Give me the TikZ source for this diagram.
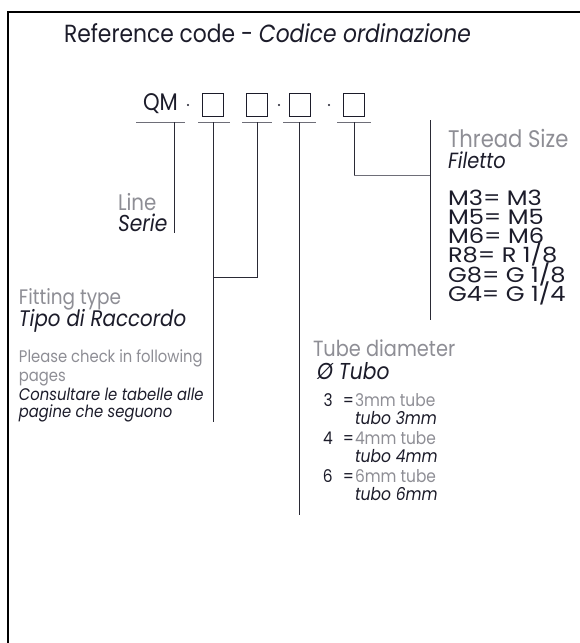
\documentclass[tikz,border=0pt]{standalone}
\usepackage{fontspec}
\setmainfont{Poppins}[FakeStretch=0.88]
\newfontfamily\widefont{Poppins}[FakeStretch=1.15]
\definecolor{txtgray}{HTML}{8E8E95}
\definecolor{ink}{HTML}{1C1C2A}
\definecolor{linec}{HTML}{2A2A35}
\definecolor{ulinec}{HTML}{6E6E78}
\newcommand{\fs}[1]{\fontsize{#1}{#1}\selectfont}
\begin{document}
\begin{tikzpicture}[x=1pt,y=-1pt,
  lbl/.style={anchor=base west,inner sep=0pt,outer sep=0pt,text=ink},
  en/.style={lbl,text=txtgray},
  cbox/.style={draw=ink,line width=0.9pt,minimum width=21pt,minimum height=23pt,inner sep=0pt},
  sep/.style={circle,fill=ink,inner sep=0pt,minimum size=2.2pt},
  uline/.style={draw=ulinec,line width=1pt},
  conn/.style={draw=linec,line width=0.9pt},
  gconn/.style={draw=ulinec,line width=1pt},
  frame/.style={draw=black,line width=2pt}]
\useasboundingbox (0,0) rectangle (580,643);
\draw[frame] (7.5,643) -- (7.5,11.5) -- (581,11.5);

% title
\node[lbl,font=\fs{24.8}] (title) at (64,42) {Reference code - \textit{Codice ordinazione}};

% code row
\node[lbl,font=\fs{24}] (qm) at (143,110) {QM};
\node[sep] (d1) at (188,105) {};
\node[cbox] (b1) at (212.5,104.5) {};
\node[cbox] (b2) at (257,104.5) {};
\node[sep] (d2) at (279,105) {};
\node[cbox] (b3) at (300,104.5) {};
\node[sep] (d3) at (329,105) {};
\node[cbox] (b4) at (354,104.5) {};

% underlines
\coordinate (u1a) at (136,122); \coordinate (u1b) at (185,122);
\coordinate (u2a) at (198,122); \coordinate (u2b) at (230,122);
\coordinate (u3a) at (242,122); \coordinate (u3b) at (272,122);
\coordinate (u4a) at (283,122); \coordinate (u4b) at (316,122);
\coordinate (u5a) at (337,122); \coordinate (u5b) at (371,122);
\draw[uline] (u1a) -- (u1b);
\draw[uline] (u2a) -- (u2b);
\draw[uline] (u3a) -- (u3b);
\draw[uline] (u4a) -- (u4b);
\draw[uline] (u5a) -- (u5b);

% ticks
\coordinate (t1) at (174,122);
\coordinate (t2) at (213,122);
\coordinate (t3) at (257,122);
\coordinate (t4) at (299,122);
\coordinate (t5) at (354,122);

% Line
\coordinate (e1) at (174,233);
\draw[conn] (t1) -- (e1);
\node[en,font=\fs{22.5}] (line) at (118,210) {Line};
\node[lbl,font=\fs{23}\itshape] (serie) at (118,231) {Serie};

% Fitting type
\coordinate (e2) at (213,422);
\coordinate (j2) at (213,277);
\coordinate (j3) at (257,277);
\draw[conn] (t2) -- (e2);
\draw[conn] (t3) -- (j3) -- (j2);
\node[en,font=\fs{21}] (fit) at (19,304) {Fitting type};
\node[lbl,font=\fs{22.5}\itshape] (tipo) at (19,326) {Tipo di Raccordo};
\node[en,font=\fs{16.8}] (pl1) at (19,362) {Please check in following};
\node[en,font=\fs{16.8}] (pl2) at (19,381) {pages};
\node[lbl,font=\fs{16.8}\itshape] (co1) at (19,400) {Consultare le tabelle alle};
\node[lbl,font=\fs{16.8}\itshape] (co2) at (19,417) {pagine che seguono};

% Tube diameter
\coordinate (e4) at (299,515);
\draw[conn] (t4) -- (e4);
\node[en,font=\fs{22}] (tube) at (313,356) {Tube diameter};
\node[lbl,font=\fs{23}\itshape] (tubo) at (317,379) {Ø Tubo};
\node[lbl,anchor=base east,font=\fs{17.5}] (n3) at (354,406) {3\hspace{6pt} =};
\node[en,font=\fs{17.5}] (g3) at (355,406) {3mm tube};
\node[lbl,font=\fs{17.7}\itshape] (i3) at (355,424) {tubo 3mm};
\node[lbl,anchor=base east,font=\fs{17.5}] (n4) at (354,444) {4\hspace{6pt} =};
\node[en,font=\fs{17.5}] (g4) at (355,444) {4mm tube};
\node[lbl,font=\fs{17.7}\itshape] (i4) at (355,462) {tubo 4mm};
\node[lbl,anchor=base east,font=\fs{17.5}] (n6) at (354,482) {6\hspace{6pt} =};
\node[en,font=\fs{17.5}] (g6) at (355,482) {6mm tube};
\node[lbl,font=\fs{17.7}\itshape] (i6) at (355,500) {tubo 6mm};

% Thread size
\coordinate (j5) at (354,175);
\coordinate (k5) at (430,175);
\coordinate (v5a) at (430,120);
\coordinate (v5b) at (430,320);
\draw[conn] (t5) -- (j5);
\draw[gconn] (j5) -- (k5);
\draw[conn] (v5a) -- (v5b);
\node[en,font=\fs{24}] (thr) at (448,147) {Thread Size};
\node[lbl,font=\fs{22}\itshape] (fil) at (448,168) {Filetto};
\node[lbl,font=\widefont\fs{21}] (m3) at (448,205) {M3= M3};
\node[lbl,font=\widefont\fs{21}] (m5) at (448,224.3) {M5= M5};
\node[lbl,font=\widefont\fs{21}] (m6) at (448,243.6) {M6= M6};
\node[lbl,font=\widefont\fs{21}] (r8) at (448,262.9) {R8= R 1/8};
\node[lbl,font=\widefont\fs{21}] (g8) at (448,282.2) {G8= G 1/8};
\node[lbl,font=\widefont\fs{21}] (g4t) at (448,301.5) {G4= G 1/4};
\end{tikzpicture}
\end{document}
